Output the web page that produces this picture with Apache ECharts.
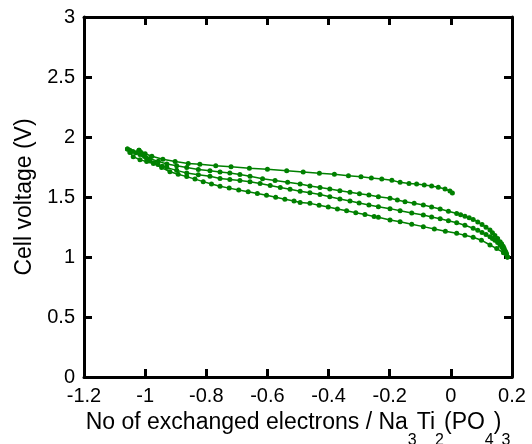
<!DOCTYPE html>
<html>
<head>
<meta charset="utf-8">
<script src="https://cdn.jsdelivr.net/npm/echarts@6/dist/echarts.min.js"></script>
<style>
  html, body { margin: 0; padding: 0; background: #fff; }
  #chart { width: 532px; height: 444px; }
</style>
</head>
<body>
<div id="chart"></div>
<script>
// [x, V] pairs, in the order the cell went through them
var charge1 = [
  [0.005, 1.533], [-0.003, 1.550], [-0.019, 1.567], [-0.041, 1.581], [-0.063, 1.592],
  [-0.087, 1.600], [-0.112, 1.608], [-0.137, 1.613], [-0.166, 1.622], [-0.193, 1.639],
  [-0.226, 1.650], [-0.260, 1.658], [-0.294, 1.669], [-0.335, 1.678], [-0.381, 1.689],
  [-0.430, 1.697], [-0.483, 1.708], [-0.537, 1.719], [-0.600, 1.731], [-0.659, 1.739],
  [-0.719, 1.753], [-0.769, 1.761], [-0.821, 1.772], [-0.859, 1.780], [-0.902, 1.795],
  [-0.942, 1.815], [-0.978, 1.840], [-1.000, 1.860], [-1.020, 1.890]
];
var discharge1 = [
  [-1.020, 1.890], [-1.013, 1.870], [-1.007, 1.850], [-0.996, 1.825], [-0.984, 1.800],
  [-0.971, 1.785], [-0.958, 1.770], [-0.944, 1.757], [-0.929, 1.745], [-0.897, 1.722],
  [-0.864, 1.700], [-0.826, 1.686], [-0.788, 1.672], [-0.755, 1.655], [-0.723, 1.646],
  [-0.690, 1.637], [-0.657, 1.628], [-0.624, 1.613], [-0.591, 1.596], [-0.558, 1.580],
  [-0.526, 1.564], [-0.493, 1.547], [-0.461, 1.535], [-0.428, 1.520], [-0.396, 1.502],
  [-0.363, 1.484], [-0.330, 1.467], [-0.300, 1.450], [-0.268, 1.434], [-0.237, 1.419],
  [-0.199, 1.403], [-0.166, 1.385], [-0.128, 1.367], [-0.090, 1.350], [-0.063, 1.334],
  [-0.035, 1.318], [-0.008, 1.302], [0.019, 1.286], [0.046, 1.264], [0.073, 1.239],
  [0.088, 1.222], [0.102, 1.205], [0.115, 1.187], [0.128, 1.169], [0.136, 1.155],
  [0.144, 1.140], [0.153, 1.120], [0.161, 1.100], [0.167, 1.082], [0.172, 1.064],
  [0.177, 1.045], [0.181, 1.025], [0.185, 1.000]
];
var charge2 = [
  [0.185, 1.000], [0.182, 1.025], [0.180, 1.040], [0.177, 1.055], [0.174, 1.072],
  [0.171, 1.090], [0.166, 1.110], [0.161, 1.128], [0.153, 1.155], [0.144, 1.180],
  [0.136, 1.203], [0.128, 1.225], [0.115, 1.248], [0.102, 1.270], [0.088, 1.292],
  [0.073, 1.313], [0.060, 1.327], [0.046, 1.340], [0.032, 1.352], [0.019, 1.363],
  [-0.008, 1.382], [-0.035, 1.400], [-0.063, 1.417], [-0.090, 1.433], [-0.120, 1.447],
  [-0.150, 1.460], [-0.175, 1.475], [-0.199, 1.489], [-0.237, 1.503], [-0.268, 1.516],
  [-0.299, 1.528], [-0.330, 1.540], [-0.363, 1.553], [-0.396, 1.566], [-0.428, 1.579],
  [-0.461, 1.592], [-0.493, 1.608], [-0.534, 1.623], [-0.575, 1.638], [-0.616, 1.653],
  [-0.657, 1.672], [-0.690, 1.688], [-0.723, 1.700], [-0.755, 1.708], [-0.788, 1.719],
  [-0.826, 1.730], [-0.864, 1.745], [-0.897, 1.760], [-0.929, 1.775], [-0.957, 1.797],
  [-0.984, 1.820], [-1.002, 1.838], [-1.017, 1.855], [-1.030, 1.868], [-1.040, 1.880],
  [-1.050, 1.890], [-1.058, 1.900]
];
var discharge2 = [
  [-1.058, 1.900], [-1.050, 1.870], [-1.039, 1.836], [-1.017, 1.810], [-0.995, 1.795],
  [-0.973, 1.780], [-0.946, 1.745], [-0.919, 1.710], [-0.892, 1.690], [-0.864, 1.670],
  [-0.837, 1.649], [-0.810, 1.628], [-0.783, 1.609], [-0.755, 1.590], [-0.725, 1.574],
  [-0.694, 1.559], [-0.663, 1.544], [-0.633, 1.529], [-0.603, 1.514], [-0.573, 1.498],
  [-0.543, 1.482], [-0.513, 1.466], [-0.493, 1.455], [-0.461, 1.447], [-0.431, 1.431],
  [-0.401, 1.416], [-0.371, 1.400], [-0.341, 1.385], [-0.311, 1.369], [-0.281, 1.354],
  [-0.251, 1.338], [-0.237, 1.331], [-0.199, 1.308], [-0.166, 1.294], [-0.128, 1.273],
  [-0.090, 1.253], [-0.054, 1.234], [-0.018, 1.215], [0.019, 1.197], [0.046, 1.182],
  [0.073, 1.164], [0.100, 1.140], [0.128, 1.100], [0.150, 1.070], [0.172, 1.036],
  [0.185, 1.000]
];

var xRange = [-1.2, 0.2], xStep = 0.2;
var yRange = [0, 3], yStep = 0.5;

var font = 'Liberation Sans';
var green = '#008000';

function num(v) { return String(Math.round(v * 10) / 10); }

function frameAxis(range, step, pos, withLabels) {
  return {
    type: 'value',
    position: pos,
    min: range[0],
    max: range[1],
    interval: step,
    axisLine: { show: true, onZero: false, lineStyle: { color: '#000', width: 3 } },
    axisTick: { show: true, inside: true, length: 8, lineStyle: { color: '#000', width: 3 } },
    axisLabel: { show: withLabels, formatter: num, color: '#000', fontSize: 20, fontFamily: font, margin: 9 },
    splitLine: { show: false }
  };
}

var xBottom = frameAxis(xRange, xStep, 'bottom', true);
xBottom.name = 'No of exchanged electrons / Na{s|3}Ti{s|2}(PO{s|4}){s|3}';
xBottom.nameLocation = 'middle';
xBottom.nameGap = 15;
xBottom.nameTextStyle = {
  color: '#000', fontSize: 23, fontFamily: font,
  rich: { s: { fontSize: 16, fontFamily: font, color: '#000', padding: [36, 0, 0, 0] } }
};

var yLeft = frameAxis(yRange, yStep, 'left', true);
yLeft.name = 'Cell voltage (V)';
yLeft.nameLocation = 'middle';
yLeft.nameGap = 44;
yLeft.nameTextStyle = { color: '#000', fontSize: 23, fontFamily: font };

var chart = echarts.init(document.getElementById('chart'));
chart.setOption({
  animation: false,
  backgroundColor: '#fff',
  grid: { left: 84, right: 20, top: 17, bottom: 67, containLabel: false, outerBoundsMode: 'none' },
  xAxis: [xBottom, frameAxis(xRange, xStep, 'top', false)],
  yAxis: [yLeft, frameAxis(yRange, yStep, 'right', false)],
  series: [{
    type: 'line',
    xAxisIndex: 0,
    yAxisIndex: 0,
    data: charge1.concat(discharge1, charge2, discharge2),
    symbol: 'circle',
    symbolSize: 5,
    lineStyle: { color: green, width: 1.5 },
    itemStyle: { color: green },
    z: 3
  }]
});
</script>
</body>
</html>
